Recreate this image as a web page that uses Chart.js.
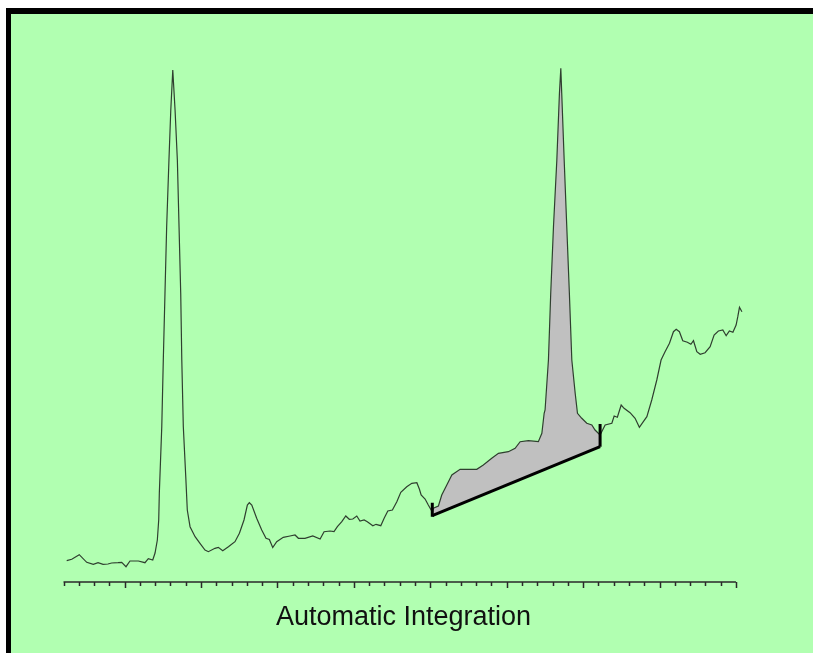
<!DOCTYPE html>
<html>
<head>
<meta charset="utf-8">
<title>Automatic Integration</title>
<script src="https://cdn.jsdelivr.net/npm/chart.js@4/dist/chart.umd.min.js"></script>
<style>
    html, body { margin: 0; padding: 0; background: #ffffff; }
    #chromatogram { display: block; }
</style>
</head>
<body>
<canvas id="chromatogram" width="813" height="653"></canvas>
<script>
// Retention axis in minor-tick units, signal in detector counts
const traceTimes = [
    0.21, 0.54, 1.03, 1.52, 1.95, 2.26, 2.59, 2.91, 3.15, 3.57,
    3.81, 4.09, 4.35, 4.90, 5.33, 5.55, 5.84, 5.99, 6.14, 6.23,
    6.27, 6.43, 6.53, 6.64, 6.75, 6.90, 7.02, 7.15,
    7.30, 7.45, 7.56, 7.67, 7.74, 7.84, 8.00, 8.10, 8.28, 8.61,
    8.93, 9.26, 9.48, 9.91, 10.13, 10.42, 10.79, 11.22, 11.51, 11.81,
    12.03, 12.16, 12.32, 12.64, 12.97, 13.25, 13.47, 13.69, 13.95, 14.38,
    14.82, 15.15, 15.37, 15.80, 16.31, 16.79, 17.05, 17.44, 17.70, 17.92,
    18.21, 18.47, 18.70, 18.93, 19.19, 19.40, 19.67, 19.88, 20.24, 20.45,
    20.76, 20.98, 21.22, 21.52, 21.81, 22.07, 22.46, 22.79, 23.12, 23.29,
    23.40, 23.66, 23.87, 24.13,
    24.20, 24.53, 24.75, 25.08, 25.41, 25.95, 27.04, 27.47, 28.02, 28.46,
    29.11, 29.55, 29.88, 30.42, 31.07, 31.30, 31.45, 31.51, 31.73, 31.88,
    32.06, 32.28, 32.45, 32.54, 32.60, 32.76, 32.93, 33.10, 33.26, 33.48,
    33.63, 33.91, 34.24, 34.57, 34.78, 35.11,
    35.44, 35.88, 36.03, 36.24, 36.49, 36.68, 37.07, 37.40, 37.68, 37.94,
    38.17, 38.49, 38.82, 39.10, 39.36, 39.65, 39.91, 40.09, 40.30, 40.52,
    40.82, 41.05, 41.22, 41.44, 41.66, 41.98, 42.31, 42.57, 42.85, 43.14,
    43.36, 43.57, 43.80, 44.01, 44.12, 44.23, 44.39
];
const traceSignal = [
    21.3, 22.7, 27.3, 19.7, 17.7, 19.3, 17.7, 18, 19, 19.3,
    19.7, 15.3, 21, 21, 19.3, 23.3, 22, 29, 42, 62,
    88.7, 155.3, 222, 288.7, 355.3, 422, 472, 512,
    472, 422, 355.3, 288.7, 222, 155.3, 105.3, 72, 55.3, 45.3,
    38.7, 32, 30.3, 33.7, 34.7, 31.3, 35.3, 40.3, 48.7, 62,
    77, 79.3, 77, 63.7, 52, 43.7, 42.5, 34.5, 40.3, 44.7,
    46, 47, 43.7, 43.7, 46, 43, 50.3, 51, 50.3, 55.3,
    60.3, 66, 62.7, 63, 66, 61, 62, 60.3, 56.3, 57.7,
    56.3, 63.7, 71, 72, 80.3, 89.7, 95.3, 98.7, 99.3, 92.7,
    87, 83, 77, 70,
    73.7, 76, 87, 97, 107, 112.7, 112.7, 117, 123.7, 128.7,
    130.3, 133.7, 140.3, 141.3, 140.3, 148.7, 168.7, 172, 222, 288.7,
    355.3, 422, 488.7, 513.7, 488.7, 422, 355.3, 288.7, 222, 188.7,
    168.7, 163.7, 158.7, 157, 152, 147,
    157, 158.7, 166, 164.7, 177, 173.7, 169.3, 163.7, 154.7, 160.3,
    165.3, 182, 202, 222, 230.3, 238.7, 250.3, 252.7, 250.3, 241.3,
    239.7, 237.7, 241.3, 230.3, 227.7, 229.3, 235.3, 247, 251, 252,
    246.3, 251, 249.7, 257, 265.3, 274.7, 270.3
];

// Integration baseline drawn under the second peak
const baselineTimes = [24.13, 35.11];
const baselineSignal = [66.3, 135.3];

// Start / end markers of the integrated peak
const startMarkerSignal = [65.3, 79.3];
const endMarkerSignal = [135.3, 158];

// Axis ticks
const axisStart = 0;
const axisEnd = 44;
const majorEvery = 5;
const majorOffset = 4;

const toPoints = (xs, ys) => xs.map((x, i) => ({ x: x, y: ys[i] }));

const tracePoints = toPoints(traceTimes, traceSignal);
const shadedPoints = tracePoints.filter(p => p.x >= baselineTimes[0] && p.x <= baselineTimes[1]);

// Green panel with the black frame on top and left
const framePlugin = {
    id: 'frame',
    beforeDraw(chart) {
        const ctx = chart.ctx;
        ctx.save();
        ctx.fillStyle = '#ffffff';
        ctx.fillRect(0, 0, chart.width, chart.height);
        ctx.fillStyle = '#000000';
        ctx.fillRect(6, 8, chart.width - 6, chart.height - 8);
        ctx.fillStyle = '#b1ffb1';
        ctx.fillRect(11, 14, chart.width - 11, chart.height - 14);
        ctx.restore();
    }
};

// Time axis with major / minor tick marks
const axisPlugin = {
    id: 'timeAxis',
    afterDraw(chart) {
        const ctx = chart.ctx;
        const xs = chart.scales.x;
        const y0 = chart.scales.y.getPixelForValue(0);
        ctx.save();
        ctx.strokeStyle = '#2a2a2a';
        ctx.lineWidth = 1.5;
        ctx.beginPath();
        ctx.moveTo(xs.getPixelForValue(axisStart), y0);
        ctx.lineTo(xs.getPixelForValue(axisEnd), y0);
        for (let t = axisStart; t <= axisEnd; t++) {
            const px = Math.round(xs.getPixelForValue(t)) + 0.5;
            const len = (t - majorOffset) % majorEvery === 0 ? 6 : 4;
            ctx.moveTo(px, y0);
            ctx.lineTo(px, y0 + len);
        }
        ctx.stroke();
        ctx.restore();
    }
};

new Chart(document.getElementById('chromatogram'), {
    type: 'line',
    data: {
        datasets: [
            {
                label: 'start',
                data: toPoints([baselineTimes[0], baselineTimes[0]], startMarkerSignal),
                borderColor: '#000000',
                borderWidth: 3,
                fill: false
            },
            {
                label: 'end',
                data: toPoints([baselineTimes[1], baselineTimes[1]], endMarkerSignal),
                borderColor: '#000000',
                borderWidth: 3,
                fill: false
            },
            {
                label: 'baseline',
                data: toPoints(baselineTimes, baselineSignal),
                borderColor: '#000000',
                borderWidth: 3,
                fill: false
            },
            {
                label: 'signal',
                data: tracePoints,
                borderColor: '#2f3f2f',
                borderWidth: 1.2,
                fill: false
            },
            {
                label: 'area',
                data: shadedPoints,
                borderWidth: 0,
                borderColor: 'rgba(0,0,0,0)',
                backgroundColor: '#c0c0c0',
                fill: 2
            }
        ]
    },
    options: {
        responsive: false,
        animation: false,
        events: [],
        layout: {
            padding: { left: 63.5, right: 69.4, top: 60, bottom: 0 }
        },
        elements: {
            point: { radius: 0 },
            line: { tension: 0 }
        },
        scales: {
            x: { type: 'linear', min: 0, max: 44.5, display: false },
            y: { type: 'linear', min: 0, max: 522, display: false }
        },
        plugins: {
            legend: { display: false },
            tooltip: { enabled: false },
            title: {
                display: true,
                text: 'Automatic Integration',
                position: 'bottom',
                color: '#111111',
                font: { family: '"Liberation Sans", Arial, sans-serif', size: 27, weight: 'normal', lineHeight: 1.2 },
                padding: { top: 19, bottom: 19.6 }
            }
        }
    },
    plugins: [framePlugin, axisPlugin]
});
</script>
</body>
</html>
